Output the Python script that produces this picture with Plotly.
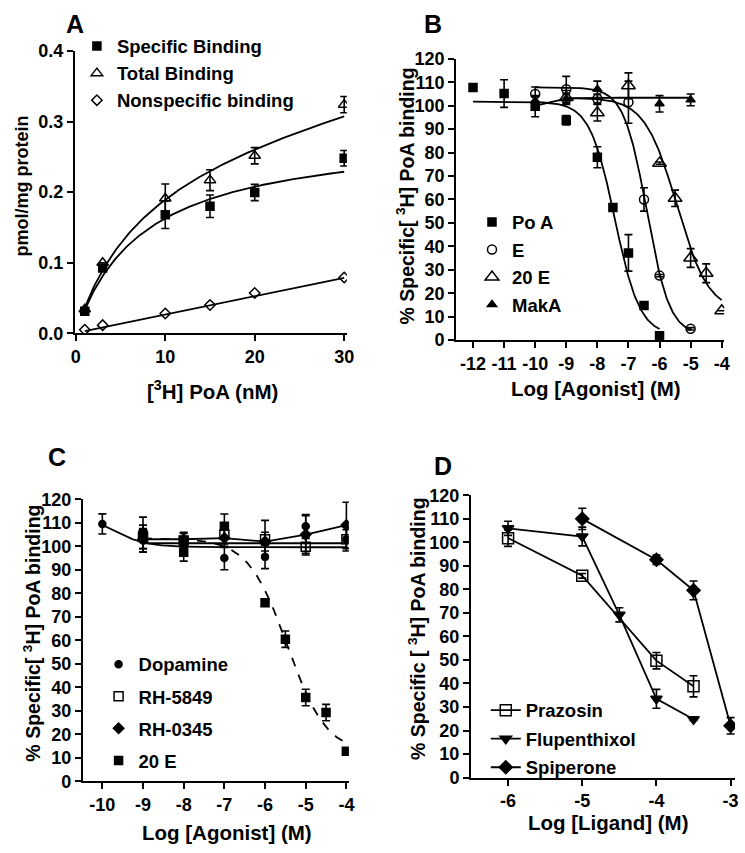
import numpy as np
import plotly.graph_objects as go

W, H = 745, 853

# ---------------- Panel A data ----------------
conc_A = [1, 3, 10, 15, 20, 30]
specific_A = [0.031, 0.0925, 0.168, 0.180, 0.1995, 0.248]
specific_err_A = [0, 0, 0.0195, 0.016, 0.0115, 0.011]
total_A = [0.034, 0.100, 0.191, 0.217, 0.2516, 0.324]
total_err_A = [0, 0, 0.0205, 0.0148, 0.0115, 0.0115]
nonspec_A = [0.005, 0.0115, 0.028, 0.040, 0.057, 0.079]
# fitted parameters
Bmax_A, Kd_A = 0.287, 7.62
ns_slope_A, ns_int_A = 0.0026, 0.0005
xticks_A = [0, 10, 20, 30]
yticks_A = [0, 0.1, 0.2, 0.3, 0.4]

# ---------------- Panel B data ----------------
poa_x = [-12, -11, -10, -9, -8, -7.5, -7, -6.5, -6]
poa_y = [107.8, 105.2, 99.8, 93.8, 78, 56.6, 37.2, 14.8, 1.8]
poa_e = [0, 5.9, 4.5, 2, 4.5, 1, 7.8, 1, 0]
e_x = [-10, -9, -8, -7, -6.5, -6, -5]
e_y = [105, 107, 103, 101.5, 60, 27.5, 4.8]
e_e = [3, 5.5, 2, 9, 5, 0.5, 0.5]
e20_x = [-9, -8, -7, -6, -5.5, -5, -4.5, -4]
e20_y = [103.5, 97, 108.5, 75.5, 60.5, 35, 28.5, 12.5]
e20_e = [3, 3.5, 5.5, 0.5, 3.5, 4, 4, 0]
mak_x = [-10, -9, -8, -6, -5]
mak_y = [102, 103, 107, 100.8, 102.5]
mak_e = [2, 2, 3.5, 3.5, 2.5]
# sigmoid fits: (top, bottom, logIC50, hill, xmin, xmax)
fit_poa = (101.7, 2, -7.44, 1.08, -12, -6)
fit_e = (107.8, 2, -6.41, 1.18, -10, -5)
fit_e20 = (103.4, 12, -5.45, 0.85, -9, -4)
fit_mak = (99.0, 103.4, -9.6, 1.5, -10, -5)
xticks_B = list(range(-12, -3))

# ---------------- Panel C data ----------------
c_x = [-9, -8, -7, -6, -5, -4]
dop_x = [-10, -9, -8, -7, -6, -5, -4]
dop_y = [109.5, 102.5, 101, 95, 95.5, 108.5, 103]
dop_e = [4.3, 5, 3, 5, 5, 5, 4]
rh5849_y = [104, 102.5, 105, 103, 99.8, 103]
rh5849_e = [5, 3, 4, 8, 3.5, 5]
rh0345_y = [103, 103, 103.5, 102, 105, 109]
rh0345_e = [4, 3, 4, 4, 8, 9.7]
c20_x = [-9, -8, -7, -6, -5.5, -5, -4.5, -4]
c20_y = [105, 97.5, 108.5, 76, 60.5, 35.7, 29.3, 12.8]
c20_e = [7.4, 3.8, 5.2, 0.5, 3.5, 3.5, 3.5, 0.5]
fit_dop = (115, 99.6, -9.8, 1.0, -10, -4)
fit_rh5849 = (101.3, 101.3, -6.0, 1.0, -9, -4)
fit_c20 = (103.4, 12, -5.45, 0.9, -9, -4)
xticks_C = list(range(-10, -3))

# ---------------- Panel D data ----------------
praz_x = [-6, -5, -4, -3.5]
praz_y = [101.8, 85.8, 49.7, 38.8]
praz_e = [3.5, 1, 3.5, 4.5]
flu_x = [-6, -5, -4.5, -4, -3.5]
flu_y = [106, 102.5, 69.2, 33.5, 24.8]
flu_e = [3, 4, 3, 4, 0.5]
spi_x = [-5, -4, -3.5, -3]
spi_y = [110, 92.6, 79.6, 22]
spi_e = [4.5, 2, 4, 3.5]
xticks_D = [-6, -5, -4, -3]
yticks_pct = list(range(0, 121, 10))


def sig(p, n=200):
    top, bot, c, h, x0, x1 = p
    x = np.linspace(x0, x1, n)
    return x, bot + (top - bot) / (1 + 10 ** ((x - c) * h))


def hy(vals):
    return ["%d" % v if v >= 0 else "-%d" % (-v) for v in vals]


FONT = "Liberation Sans, Arial, sans-serif"
fig = go.Figure()


def px2x(p):
    return p / W


def px2y(p):
    return 1 - p / H


def err(arr):
    return dict(type="data", array=arr, color="black", thickness=1.6, width=4, visible=True)


def pts(x, y, e, name, sym, size, xa, ya, legend, lw=1.5):
    fig.add_trace(go.Scatter(
        x=x, y=y, mode="markers", name=name, legend=legend, legendgroup=name,
        marker=dict(symbol=sym, size=size, color="black", line=dict(color="black", width=lw)),
        error_y=err(e) if e is not None else None,
        xaxis=xa, yaxis=ya, showlegend=True))


def curve(x, y, xa, ya, dash="solid"):
    fig.add_trace(go.Scatter(x=x, y=y, mode="lines", line=dict(color="black", width=1.8, dash=dash),
                             xaxis=xa, yaxis=ya, showlegend=False, hoverinfo="skip"))


# ---- A ----
xs = np.linspace(conc_A[0], conc_A[-1], 200)
spec_fit = Bmax_A * xs / (Kd_A + xs)
ns_fit = ns_slope_A * xs + ns_int_A
curve(xs, spec_fit, "x", "y")
curve(xs, spec_fit + ns_fit, "x", "y")
curve(xs, ns_fit, "x", "y")
pts(conc_A, specific_A, specific_err_A, "Specific Binding", "square", 8, "x", "y", "legend")
pts(conc_A, total_A, total_err_A, "Total Binding", "triangle-up-open", 10, "x", "y", "legend")
pts(conc_A, nonspec_A, None, "Nonspecific binding", "diamond-open", 8, "x", "y", "legend")

# ---- B ----
for p in (fit_poa, fit_e, fit_e20, fit_mak):
    cx, cy = sig(p)
    curve(cx, cy, "x2", "y2")
pts(poa_x, poa_y, poa_e, "Po A", "square", 8, "x2", "y2", "legend2")
pts(e_x, e_y, e_e, "E", "circle-open", 9, "x2", "y2", "legend2")
pts(e20_x, e20_y, e20_e, "20 E", "triangle-up-open", 12, "x2", "y2", "legend2")
pts(mak_x, mak_y, mak_e, "MakA", "triangle-up", 8, "x2", "y2", "legend2")

# ---- C ----
for p in (fit_dop, fit_rh5849):
    cx, cy = sig(p)
    curve(cx, cy, "x3", "y3")
curve(c_x, rh0345_y, "x3", "y3")
cx, cy = sig(fit_c20)
curve(cx, cy, "x3", "y3", dash="dash")
pts(dop_x, dop_y, dop_e, "Dopamine", "circle", 7, "x3", "y3", "legend3")
pts(c_x, rh5849_y, rh5849_e, "RH-5849", "square-open", 9, "x3", "y3", "legend3")
pts(c_x, rh0345_y, rh0345_e, "RH-0345", "diamond", 8, "x3", "y3", "legend3")
pts(c20_x, c20_y, c20_e, "20 E", "square", 8, "x3", "y3", "legend3")

# ---- D ----
for x, y, e, name, sym, size in ((praz_x, praz_y, praz_e, "Prazosin", "square-open", 11),
                                 (flu_x, flu_y, flu_e, "Flupenthixol", "triangle-down", 10),
                                 (spi_x, spi_y, spi_e, "Spiperone", "diamond", 10)):
    fig.add_trace(go.Scatter(
        x=x, y=y, mode="lines+markers", name=name, legend="legend4", legendgroup=name,
        line=dict(color="black", width=1.8),
        marker=dict(symbol=sym, size=size, color="black", line=dict(color="black", width=1.5)),
        error_y=err(e), xaxis="x4", yaxis="y4"))

axis_common = dict(showline=True, linecolor="black", linewidth=2, ticks="outside", ticklen=6,
                   tickwidth=2, tickcolor="black", showgrid=False, zeroline=False,
                   tickfont=dict(family=FONT, size=18, color="black", weight="bold"))

# panel pixel boxes: (left, right, top, bottom)
boxA = (72, 348, 42, 331)
boxB = (459, 731, 50, 338)
boxC = (80, 350, 501, 790)
boxD = (474, 742, 497, 786)


def dom(box):
    l, r, t, b = box
    return [px2x(l), px2x(r)], [px2y(b), px2y(t)]


dxA, dyA = dom(boxA)
dxB, dyB = dom(boxB)
dxC, dyC = dom(boxC)
dxD, dyD = dom(boxD)

fig.update_layout(
    width=W, height=H, margin=dict(l=0, r=0, t=0, b=0),
    paper_bgcolor="white", plot_bgcolor="white",
    font=dict(family=FONT, color="black"),
    xaxis=dict(domain=dxA, range=[-0.1, 30.3], tickvals=xticks_A, ticktext=hy(xticks_A),
               anchor="y", **axis_common),
    yaxis=dict(domain=dyA, range=[0, 0.4], tickvals=yticks_A, ticktext=["%.1f" % v for v in yticks_A],
               anchor="x", **axis_common),
    xaxis2=dict(domain=dxB, range=[-12.54, -3.92], tickvals=xticks_B, ticktext=hy(xticks_B),
                anchor="y2", **axis_common),
    yaxis2=dict(domain=dyB, range=[0, 120], tickvals=yticks_pct, ticktext=hy(yticks_pct),
                anchor="x2", **axis_common),
    xaxis3=dict(domain=dxC, range=[-10.48, -3.94], tickvals=xticks_C, ticktext=hy(xticks_C),
                anchor="y3", **axis_common),
    yaxis3=dict(domain=dyC, range=[0, 120], tickvals=yticks_pct, ticktext=hy(yticks_pct),
                anchor="x3", **axis_common),
    xaxis4=dict(domain=dxD, range=[-6.5, -2.94], tickvals=xticks_D, ticktext=hy(xticks_D),
                anchor="y4", **axis_common),
    yaxis4=dict(domain=dyD, range=[0, 120], tickvals=yticks_pct, ticktext=hy(yticks_pct),
                anchor="x4", **axis_common),
)

leg_font = dict(family=FONT, size=18.5, color="black", weight="bold")
leg_common = dict(font=leg_font, bgcolor="rgba(0,0,0,0)", borderwidth=0, xanchor="left", yanchor="top",
                  traceorder="grouped", itemwidth=30)
fig.update_layout(
    legend=dict(x=px2x(74), y=px2y(18), tracegroupgap=0, **leg_common),
    legend2=dict(x=px2x(475), y=px2y(198), tracegroupgap=0.5, **leg_common),
    legend3=dict(x=px2x(96), y=px2y(651), tracegroupgap=5, **leg_common),
    legend4=dict(x=px2x(489), y=px2y(698), tracegroupgap=1.5, **leg_common),
)

ann = []


def label(text, x, y, size, angle=0):
    ann.append(dict(text=text, x=px2x(x), y=px2y(y), xref="paper", yref="paper", showarrow=False,
                    xanchor="center", yanchor="middle", textangle=angle,
                    font=dict(family=FONT, size=size, color="black", weight="bold")))


label("A", 72, 14, 25)
label("B", 435, 14, 25)
label("C", 54, 458, 25)
label("D", 446, 467, 25)
label("[<sup>3</sup>H] PoA (nM)", 212, 389, 20.5)
label("Log [Agonist] (M)", 601, 388, 20.5)
label("Log [Agonist] (M)", 226, 842, 20.5)
label("Log [Ligand] (M)", 614, 832, 20.5)
label("pmol/mg protein", 18, 180, 18, -90)
label("% Specific[ <sup>3</sup>H] PoA binding", 407, 190, 19.5, -90)
label("% Specific[ <sup>3</sup>H] PoA binding", 28, 638, 19.5, -90)
label("% Specific [ <sup>3</sup>H] PoA binding", 419, 633, 19.5, -90)
fig.update_layout(annotations=ann)

fig.write_html("out.html", config={"displayModeBar": False},
               post_script="document.body.style.margin='0';")
